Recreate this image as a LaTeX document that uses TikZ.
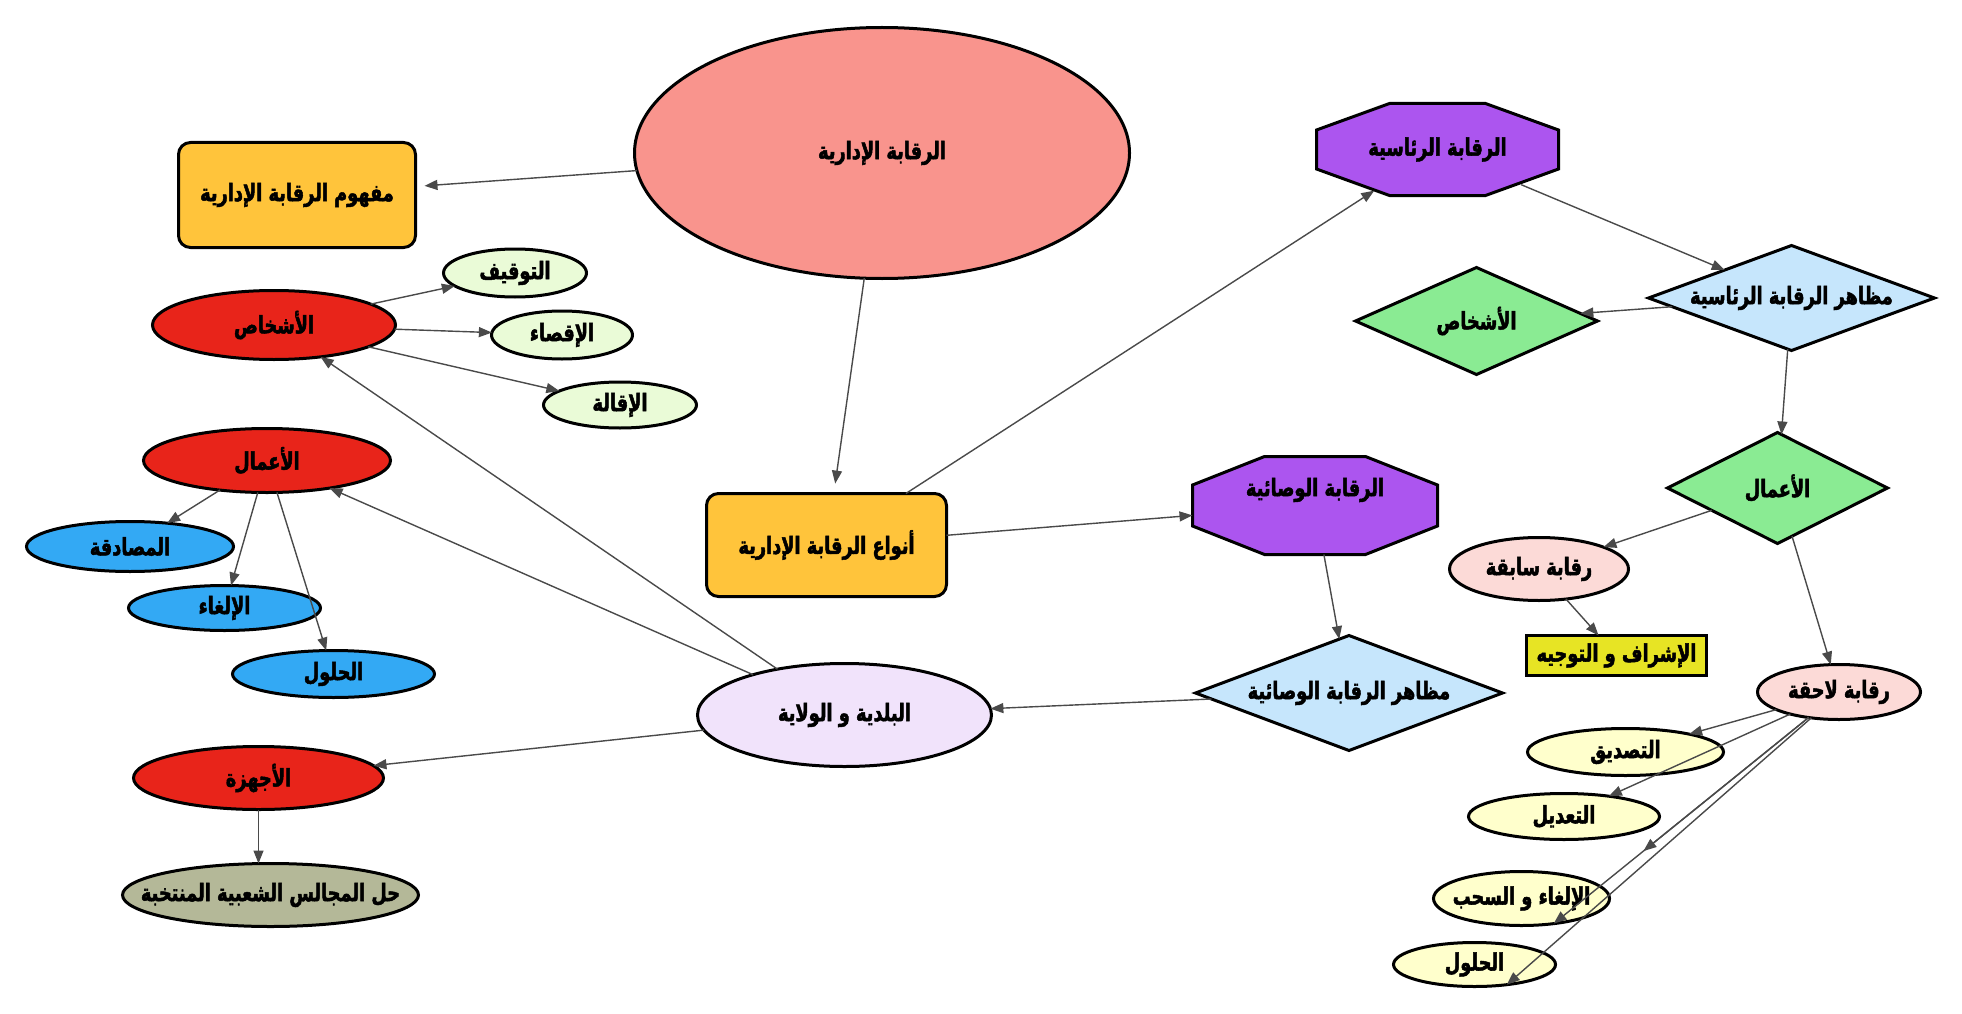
\documentclass[tikz,border=0pt]{standalone}
\usepackage{fontspec}
\newfontfamily\arabicfont[Script=Arabic,FakeStretch=0.74,FakeBold=2]{DejaVu Sans Bold}
\TeXXeTstate=1
\usetikzlibrary{shapes.geometric,arrows.meta,calc}
\newcommand\lbl[1]{\makebox[0pt]{\beginR #1\endR}}
\definecolor{csalmon}{HTML}{F9948D}
\definecolor{corange}{HTML}{FFC43B}
\definecolor{cpalegreen}{HTML}{EAFBD7}
\definecolor{cred}{HTML}{E8241A}
\definecolor{cblue}{HTML}{33A9F4}
\definecolor{ckhaki}{HTML}{B4B898}
\definecolor{clavender}{HTML}{F1E3FB}
\definecolor{cpurple}{HTML}{AC55EF}
\definecolor{clightblue}{HTML}{C6E6FC}
\definecolor{cgreen}{HTML}{8AEB93}
\definecolor{cpink}{HTML}{FCDAD7}
\definecolor{cyellow}{HTML}{E7E424}
\definecolor{cpaleyellow}{HTML}{FFFFCC}
\definecolor{carrow}{HTML}{4A4A4A}
\newcommand\octpath[7]{%
  \filldraw[fill=#1, draw=black, line width=3pt, line join=miter]
  ({#2-#4/2+#6},{#3-#5/2}) -- ({#2+#4/2-#6},{#3-#5/2}) --
  ({#2+#4/2},{#3-#5/2+#7}) -- ({#2+#4/2},{#3+#5/2-#7}) --
  ({#2+#4/2-#6},{#3+#5/2}) -- ({#2-#4/2+#6},{#3+#5/2}) --
  ({#2-#4/2},{#3+#5/2-#7}) -- ({#2-#4/2},{#3-#5/2+#7}) -- cycle;}
\begin{document}
\begin{tikzpicture}[x=1pt,y=-1pt,
  base/.style={draw=black, line width=3pt, inner sep=0pt, outer sep=0pt,
    font=\arabicfont\bfseries\fontsize{24}{28}\selectfont},
  ell/.style={base, ellipse},
  rbox/.style={base, rectangle, rounded corners=12pt},
  sbox/.style={base, rectangle},
  dia/.style={base, diamond, line join=miter},
  octnode/.style={base, rectangle, draw=none},
  conn/.style={draw=carrow, line width=1.4pt, -{Triangle[length=13pt,width=10pt]}},
]
\fill[white] (0,0) rectangle (1962,1014);
\useasboundingbox (0,0) rectangle (1962,1014);

% octagon outlines
\octpath{cpurple}{1437.5}{149.5}{242}{92}{73}{26.5}
\octpath{cpurple}{1315}{505.5}{245}{98}{72}{28.5}

% nodes
\node[ell, fill=csalmon, minimum width=495, minimum height=251] (big) at (882,153) {\lbl{الرقابة الإدارية}};
\node[rbox, fill=corange, minimum width=237, minimum height=105] (mafhum) at (297,195) {\lbl{مفهوم الرقابة الإدارية}};
\node[ell, fill=cred, minimum width=243, minimum height=69] (ashkhasA) at (274,325) {\lbl{الأشخاص}};
\node[ell, fill=cpalegreen, minimum width=143, minimum height=48] (tawqif) at (515,273) {\lbl{التوقيف}};
\node[ell, fill=cpalegreen, minimum width=141, minimum height=48] (iqsa) at (562,335) {\lbl{الإقصاء}};
\node[ell, fill=cpalegreen, minimum width=153, minimum height=46] (iqala) at (620,405) {\lbl{الإقالة}};
\node[ell, fill=cred, minimum width=247, minimum height=64] (aamalA) at (267,460.5) {\lbl{الأعمال}};
\node[ell, fill=cblue, minimum width=207, minimum height=50] (musadaqa) at (130,546.5) {\lbl{المصادقة}};
\node[ell, fill=cblue, minimum width=192, minimum height=45] (ilghaA) at (224.5,608) {\lbl{الإلغاء}};
\node[ell, fill=cblue, minimum width=202, minimum height=47] (hululA) at (333.5,674) {\lbl{الحلول}};
\node[ell, fill=cred, minimum width=250, minimum height=63] (ajhiza) at (258.5,778) {\lbl{الأجهزة}};
\node[ell, fill=ckhaki, minimum width=296, minimum height=63] (hall) at (270.5,895) {\lbl{حل المجالس الشعبية المنتخبة}};
\node[rbox, fill=corange, minimum width=240, minimum height=103] (anwa) at (826.5,545) {\lbl{أنواع الرقابة الإدارية}};
\node[ell, fill=clavender, minimum width=294, minimum height=103] (baladiya) at (844.5,715) {\lbl{البلدية و الولاية}};
\node[octnode, minimum width=242, minimum height=92] (raisa) at (1437.5,149.5) {\lbl{الرقابة الرئاسية}};
\node[dia, fill=clightblue, minimum width=286, minimum height=105] (mazahirA) at (1791.5,298) {\lbl{مظاهر الرقابة الرئاسية}};
\node[dia, fill=cgreen, minimum width=242, minimum height=107] (ashkhasB) at (1476.5,321) {\lbl{الأشخاص}};
\node[dia, fill=cgreen, minimum width=220, minimum height=111] (aamalB) at (1777.5,488) {\lbl{الأعمال}};
\node[ell, fill=cpink, minimum width=179, minimum height=63] (sabiqa) at (1539,569) {\lbl{رقابة سابقة}};
\node[sbox, fill=cyellow, minimum width=180, minimum height=40] (ishraf) at (1616.5,655.5) {\lbl{الإشراف و التوجيه}};
\node[ell, fill=cpink, minimum width=163, minimum height=55] (lahiqa) at (1839,692) {\lbl{رقابة لاحقة}};
\node[ell, fill=cpaleyellow, minimum width=196, minimum height=47] (tasdiq) at (1625.5,752) {\lbl{التصديق}};
\node[ell, fill=cpaleyellow, minimum width=191, minimum height=46] (tadil) at (1564,816.5) {\lbl{التعديل}};
\node[ell, fill=cpaleyellow, minimum width=176, minimum height=54] (ilghaB) at (1521.5,898.5) {\lbl{الإلغاء و السحب}};
\node[ell, fill=cpaleyellow, minimum width=162, minimum height=44] (hululB) at (1474.5,964.5) {\lbl{الحلول}};
\node[octnode, minimum width=245, minimum height=98,
  label={[base, draw=none, yshift=15.5pt]center:\makebox[0pt]{\beginR الرقابة الوصائية\endR}}] (wasaya) at (1315,505.5) {};
\node[dia, fill=clightblue, minimum width=307, minimum height=115] (mazahirB) at (1349,693) {\lbl{مظاهر الرقابة الوصائية}};

\coordinate (midpt) at ($(lahiqa.-140.5)!0.648!(ilghaB.-38.3)$);

% connectors
\draw[conn, shorten >=9pt] (big) -- (mafhum);
\draw[conn, shorten >=10pt] (big) -- (anwa);
\draw[conn, shorten >=-9pt] (anwa) -- (raisa);
\draw[conn] (anwa) -- (wasaya);
\draw[conn, shorten <=-28pt] (raisa) -- (mazahirA);
\draw[conn] (mazahirA) -- (ashkhasB);
\draw[conn] (mazahirA) -- (aamalB);
\draw[conn] (aamalB) -- (sabiqa);
\draw[conn] (aamalB) -- (lahiqa);
\draw[conn] (sabiqa) -- (ishraf);
\draw[conn] (lahiqa) -- (tasdiq);
\draw[conn] (lahiqa) -- (tadil);
\draw[conn] (lahiqa.-140.5) -- (ilghaB.-38.3);
\draw[conn] (lahiqa.-140.5) -- (midpt);
\draw[conn] (lahiqa.-137) -- (hululB.-32.7);
\draw[conn] (wasaya) -- (mazahirB);
\draw[conn] (mazahirB) -- (baladiya);
\draw[conn] (baladiya) -- (ashkhasA);
\draw[conn] (baladiya) -- (aamalA);
\draw[conn] (baladiya) -- (ajhiza);
\draw[conn] (ajhiza.south) -- (ajhiza.south |- hall.north);
\draw[conn] (ashkhasA) -- (tawqif);
\draw[conn] (ashkhasA) -- (iqsa);
\draw[conn] (ashkhasA) -- (iqala);
\draw[conn] (aamalA) -- (musadaqa);
\draw[conn] (aamalA) -- (ilghaA);
\draw[conn] (aamalA) -- (hululA);
\end{tikzpicture}
\end{document}
